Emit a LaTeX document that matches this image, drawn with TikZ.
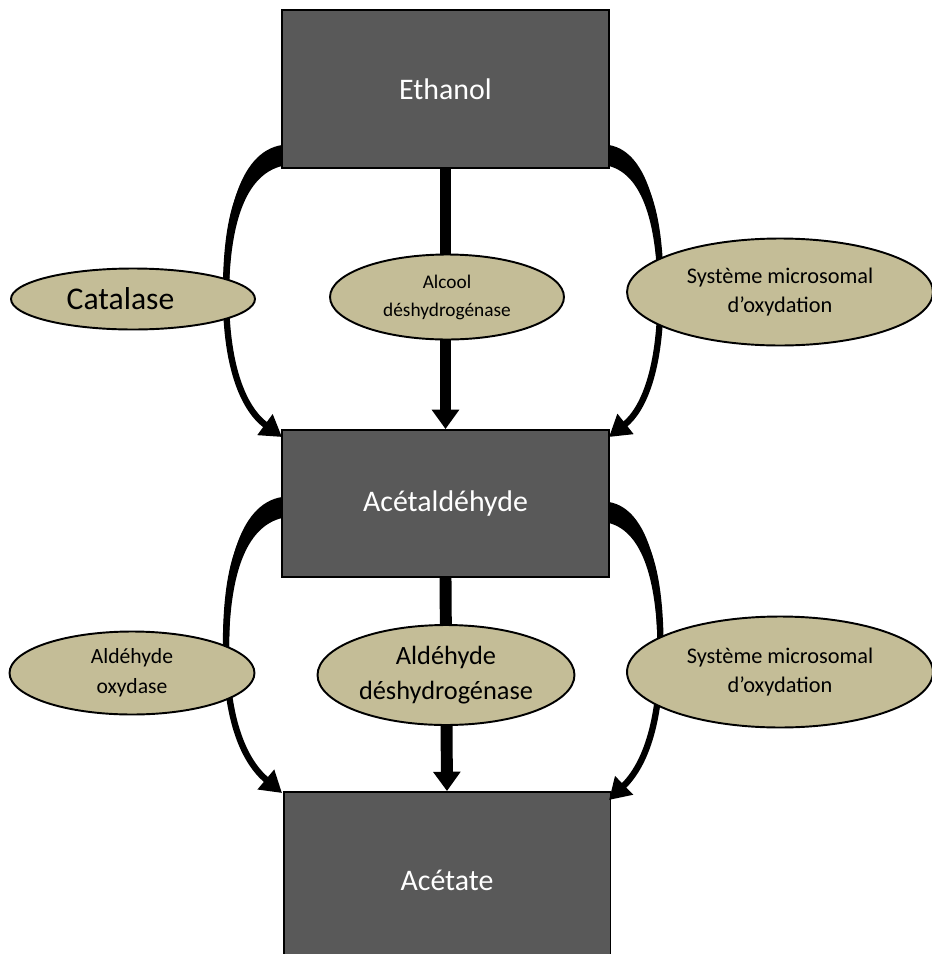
\documentclass[tikz,border=0pt]{standalone}
\usepackage{fontspec}
\setmainfont{Carlito}
\usetikzlibrary{
  shapes.geometric
  , arrows.meta
  , calc
}
\definecolor{boxgray}{HTML}{595959}
\definecolor{enzymetan}{HTML}{C4BD97}
\tikzset{
  metab/.style={rectangle, draw=black, line width=1.1pt, fill=boxgray,
    text=white, minimum width=6.54cm, font=\fontsize{17}{20}\selectfont},
  enzyme/.style={ellipse, draw=black, line width=1.1pt, fill=enzymetan,
    inner sep=0pt, align=center},
  mainflow/.style={line width=6.8pt, -{Triangle[width=15pt,length=11pt]}},
  % curved side pathway, tapered at its start
  pics/bypass/.style={code={
    \fill (0,0) .. controls (-44,7) and (-59,75) .. (-59,155)
      -- (-53,155) .. controls (-53,80) and (-37,30) .. (0,21) -- cycle;
    \draw [line width=3.6pt, -{Triangle[width=14pt,length=12pt]}]
      (0,10) .. controls (-47,20) and (-56,85) .. (-56,150)
      .. controls (-56,225) and (-37,265) .. (0,#1);
  }}
}

\begin{document}
\begin{tikzpicture}[x=0.02cm, y=-0.02cm]
  \clip (0,0) rectangle (932,954);

  % metabolites
  \node [metab, minimum height=3.16cm] (eth) at (445.5,89) {Ethanol};
  \node [metab, minimum height=2.94cm] (acet) at (445.5,503.5) {Acétaldéhyde};
  \node [metab, minimum height=3.52cm] (acs) at (447,880) {Acétate};

  % main route
  \draw [mainflow] (eth.south) -- (acet.north);
  \draw [mainflow] (acet.south) -- (acs.north);

  % side routes
  \pic at (282,145) {bypass=292};
  \pic [xscale=-0.92] at (609,145) {bypass=292};
  \pic at (282,497) {bypass=296};
  \pic [xscale=-0.92] at (609,502) {bypass=298};

  % enzymes
  \node [enzyme, minimum width=4.88cm, minimum height=1.22cm,
    font=\fontsize{18}{21}\selectfont] (cat) at (133,299)
    {\hspace*{-0.5cm}Catalase};
  \node [enzyme, minimum width=4.68cm, minimum height=1.7cm,
    font=\fontsize{11}{16}\selectfont] (adh) at (447,297)
    {Alcool\\déshydrogénase};
  \node [enzyme, minimum width=6.12cm, minimum height=2.14cm,
    font=\fontsize{12.7}{17}\selectfont] (meos1) at (780,292)
    {Système microsomal\\d’oxydation};
  \node [enzyme, minimum width=4.9cm, minimum height=1.66cm,
    font=\fontsize{12.3}{17}\selectfont] (ao) at (132,673)
    {Aldéhyde\\oxydase};
  \node [enzyme, minimum width=5.14cm, minimum height=2cm,
    font=\fontsize{15}{20}\selectfont] (aldh) at (446,675)
    {Aldéhyde\\déshydrogénase};
  \node [enzyme, minimum width=6.12cm, minimum height=2.22cm,
    font=\fontsize{12.7}{17}\selectfont] (meos2) at (780,672)
    {Système microsomal\\d’oxydation};
\end{tikzpicture}
\end{document}
